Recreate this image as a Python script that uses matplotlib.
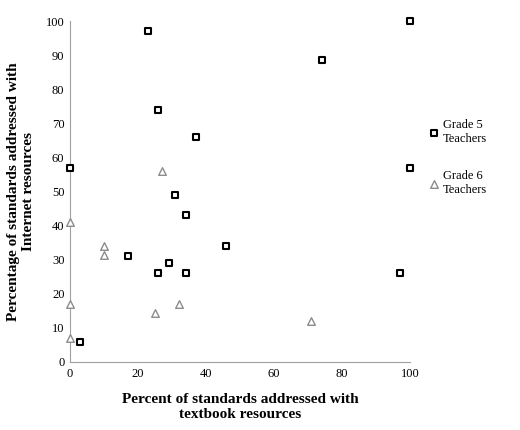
import matplotlib.pyplot as plt

plt.rcParams['font.family'] = ['Liberation Serif', 'DejaVu Serif']

g5_x = [0, 3, 17, 23, 26, 26, 29, 31, 34, 34, 37, 46, 74, 97, 100, 100]
g5_y = [57, 6, 31, 97, 74, 26, 29, 49, 43, 26, 66, 34, 88.5, 26, 100, 57]
g6_x = [0, 0, 0, 10, 10, 27, 25, 32, 71]
g6_y = [41, 17, 7, 34, 31.5, 56, 14.5, 17, 12]

fig = plt.figure(figsize=(5.2, 4.3), dpi=100)
ax = fig.add_axes([70/520, 68/430, 340/520, 341/430])

ax.scatter(g5_x, g5_y, marker='s', s=22, facecolors='white', edgecolors='black',
           linewidths=1.5, label='Grade 5\nTeachers', zorder=3, clip_on=False)
ax.scatter(g6_x, g6_y, marker='^', s=30, facecolors='white', edgecolors='#8c8c8c',
           linewidths=1.0, label='Grade 6\nTeachers', zorder=3, clip_on=False)

ax.set_xlim(0, 100)
ax.set_ylim(0, 100)
ax.set_xticks(range(0, 101, 20))
ax.set_yticks(range(0, 101, 10))
ax.tick_params(labelsize=9, length=0, pad=4)
for s in ['top', 'right']:
    ax.spines[s].set_visible(False)
for s in ['left', 'bottom']:
    ax.spines[s].set_color('#a0a0a0')

ax.set_xlabel('Percent of standards addressed with\ntextbook resources', fontsize=11,
              fontweight='bold', labelpad=10)
ax.set_ylabel('Percentage of standards addressed with\nInternet resources', fontsize=11,
              fontweight='bold', labelpad=8)

ax.legend(loc='center left', bbox_to_anchor=(1.02, 0.6), frameon=False, fontsize=9,
          handletextpad=0.2, labelspacing=2.0, handlelength=1.0)

fig.savefig('out.png', dpi=100)
